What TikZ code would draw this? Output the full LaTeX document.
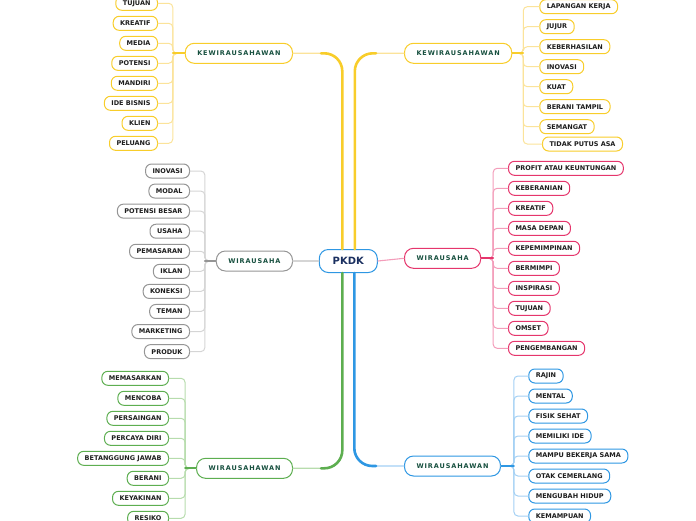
\documentclass[tikz,border=0pt]{standalone}
\usepackage{fontspec}
\setmainfont{DejaVu Sans}
\newfontfamily\brfont[LetterSpace=14]{DejaVu Sans}
\definecolor{yel}{HTML}{F8CD2A}  \definecolor{yelL}{HTML}{FBE39A}
\definecolor{pnk}{HTML}{E5356C}  \definecolor{pnkL}{HTML}{F39DBA}
\definecolor{gry}{HTML}{959595}  \definecolor{gryL}{HTML}{D5D5D5}
\definecolor{grn}{HTML}{5DAE50}  \definecolor{grnL}{HTML}{B7DCAD}
\definecolor{blu}{HTML}{2E97E3}  \definecolor{bluL}{HTML}{A3D0F4}
\definecolor{ink}{HTML}{1E1E1E}  \definecolor{brink}{HTML}{17503F}
\definecolor{pkink}{HTML}{1A2F5F}
\tikzset{
  kid/.style={draw=#1, fill=white, rounded corners=6pt, line width=1pt, minimum height=14pt,
    inner xsep=7pt, inner ysep=0pt, text=ink, font=\fontsize{6.5}{7}\selectfont\bfseries},
  br/.style={draw=#1, fill=white, rounded corners=9pt, line width=1pt, minimum height=20pt,
    inner xsep=12pt, inner ysep=0pt, text=brink, font=\brfont\fontsize{6.5}{7}\selectfont\bfseries},
  twig/.style={draw=#1, line width=1pt, rounded corners=4pt},
  stem/.style={draw=#1, line width=1.8pt},
  limb/.style={draw=#1, line width=2.6pt, rounded corners=18pt, shorten >=28pt},
  limbL/.style={draw=#1, line width=1.3pt, rounded corners=18pt},
}
\begin{document}
\begin{tikzpicture}[x=1pt, y=-1pt, line join=round, line cap=round]
\useasboundingbox (0,0) rectangle (696,520);
\clip (0,0) rectangle (696,520);
\def\sp{12}
% root
\node[draw=blu, fill=white, rounded corners=9pt, line width=1pt, minimum width=58pt, minimum height=23pt,
  text=pkink, font=\fontsize{10}{12}\selectfont\bfseries] (pk) at (348.3,261) {PKDK};
% main branches
\node[br=yel, anchor=east] (kwl) at (293,53.3) {KEWIRAUSAHAWAN};
\node[br=yel, anchor=west] (kwr) at (404,53.3) {KEWIRAUSAHAWAN};
\node[br=gry, anchor=east] (wsl) at (293,261) {WIRAUSAHA};
\node[br=pnk, anchor=west] (wsr) at (404,258.3) {WIRAUSAHA};
\node[br=grn, anchor=east] (wswl) at (293,468.3) {WIRAUSAHAWAN};
\node[br=blu, anchor=west] (wswr) at (404,466) {WIRAUSAHAWAN};
\draw[limbL=yelL] ([xshift=-6pt]pk.north) |- (kwl.east);
\draw[limb=yel] ([xshift=-6pt]pk.north) |- (kwl.east);
\draw[limbL=yelL] ([xshift=6.5pt]pk.north) |- (kwr.west);
\draw[limb=yel] ([xshift=6.5pt]pk.north) |- (kwr.west);
\draw[limbL=grnL] ([xshift=-6pt]pk.south) |- (wswl.east);
\draw[limb=grn] ([xshift=-6pt]pk.south) |- (wswl.east);
\draw[limbL=bluL] ([xshift=6pt]pk.south) |- (wswr.west);
\draw[limb=blu] ([xshift=6pt]pk.south) |- (wswr.west);
\draw[gryL, line width=1.5pt] (pk.west) -- (wsl.east);
\draw[pnkL, line width=1.1pt] (pk.east) -- (wsr.west);
% top left
\foreach \lab [count=\i] in {TUJUAN,KREATIF,MEDIA,POTENSI,MANDIRI,IDE BISNIS,KLIEN,PELUANG}{
  \node[kid=yel, anchor=east] (kwl\i) at (158,{3.3+20*(\i-1)}) {\lab};
  \draw[twig=yelL] (kwl.west) -- ++(-\sp,0) |- (kwl\i.east);
}
\draw[stem=yel] (kwl.west) -- ++(-\sp,0);
% top right
\foreach \lab [count=\i] in {LAPANGAN KERJA,JUJUR,KEBERHASILAN,INOVASI,KUAT,BERANI TAMPIL,SEMANGAT}{
  \node[kid=yel, anchor=west] (kwr\i) at (539.3,{6.7+20*(\i-1)}) {\lab};
  \draw[twig=yelL] (kwr.east) -- ++(11,0) |- (kwr\i.west);
}
\node[kid=yel, anchor=west] (kwr8) at (542,144) {TIDAK PUTUS ASA};
\draw[twig=yelL] (kwr.east) -- ++(11,0) |- (kwr8.west);
\draw[stem=yel] (kwr.east) -- ++(11,0);
% middle left
\foreach \lab [count=\i] in {INOVASI,MODAL,POTENSI BESAR,USAHA,PEMASARAN,IKLAN,KONEKSI,TEMAN,MARKETING,PRODUK}{
  \node[kid=gry, anchor=east] (wsl\i) at (190,{171+20.07*(\i-1)}) {\lab};
  \draw[twig=gryL] (wsl.west) -- ++(-11,0) |- (wsl\i.east);
}
\draw[stem=gry] (wsl.west) -- ++(-11,0);
% middle right
\foreach \lab [count=\i] in {PROFIT ATAU KEUNTUNGAN,KEBERANIAN,KREATIF,MASA DEPAN,KEPEMIMPINAN,BERMIMPI,INSPIRASI,TUJUAN,OMSET,PENGEMBANGAN}{
  \node[kid=pnk, anchor=west] (wsr\i) at (508,{168.3+20*(\i-1)}) {\lab};
  \draw[twig=pnkL] (wsr.east) -- ++(\sp,0) |- (wsr\i.west);
}
\draw[stem=pnk] (wsr.east) -- ++(\sp,0);
% bottom left
\foreach \lab [count=\i] in {MEMASARKAN,MENCOBA,PERSAINGAN,PERCAYA DIRI,BETANGGUNG JAWAB,BERANI,KEYAKINAN,RESIKO}{
  \node[kid=grn, anchor=east] (wswl\i) at (169,{378.3+20*(\i-1)}) {\lab};
  \draw[twig=grnL] (wswl.west) -- ++(-11,0) |- (wswl\i.east);
}
\draw[stem=grn] (wswl.west) -- ++(-11,0);
% bottom right
\foreach \lab [count=\i] in {RAJIN,MENTAL,FISIK SEHAT,MEMILIKI IDE,MAMPU BEKERJA SAMA,OTAK CEMERLANG,MENGUBAH HIDUP,KEMAMPUAN}{
  \node[kid=blu, anchor=west] (wswr\i) at (528.3,{376+20*(\i-1)}) {\lab};
  \draw[twig=bluL] (wswr.east) -- ++(13,0) |- (wswr\i.west);
}
\draw[stem=blu] (wswr.east) -- ++(13,0);
\end{tikzpicture}
\end{document}
